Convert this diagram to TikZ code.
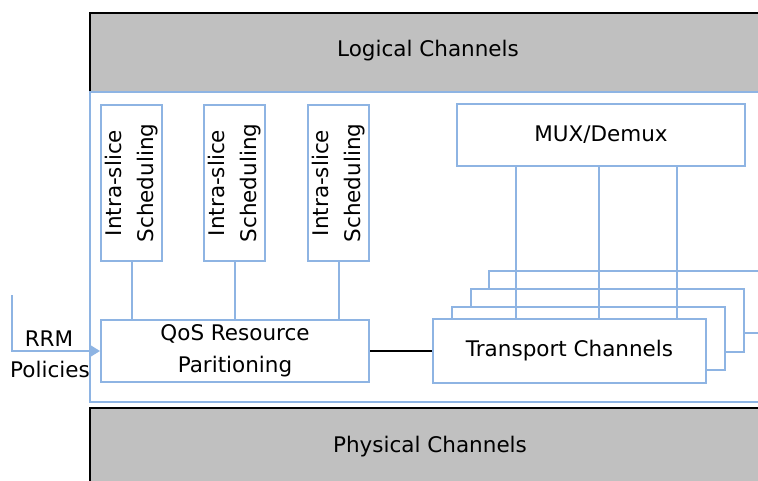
\documentclass[tikz,border=0pt]{standalone}
\usepackage{fontspec}
\setmainfont{DejaVu Sans}
\usetikzlibrary{arrows.meta}
\definecolor{boxblue}{HTML}{8EB4E3}
\definecolor{changray}{HTML}{C0C0C0}
\begin{document}
\begin{tikzpicture}
		[x=1pt, y=-1pt,
		 font=\fontsize{21.5}{32}\selectfont,
		 chan/.style = {fill=changray, draw=black, line width=2.5pt},
		 blk/.style = {draw=boxblue, fill=white, line width=2pt, inner sep=0pt, align=center},
		 link/.style = {draw=boxblue, line width=2pt}]
		\useasboundingbox (0,0) rectangle (758,480);
		\clip (0,0) rectangle (758,480);
		% channels and the MAC frame
		\draw[chan] (90,13) rectangle (790,92);
		\draw[blk] (90,92) rectangle (790,402);
		\draw[chan] (90,408) rectangle (790,500);
		\node (logical) at (428,51) {Logical Channels};
		\node (physical) at (430,447) {Physical Channels};
		% scheduling blocks
		\foreach \n/\x in {1/131.5, 2/234.5, 3/338.5}
			\node[blk, rotate=90, minimum width=156pt, minimum height=61pt] (intra\n) at (\x,183) {Intra-slice\\Scheduling};
		\node[blk, minimum width=268pt, minimum height=62pt] (qos) at (235,351) {QoS Resource\\Paritioning};
		% transport channel stack
		\node[blk, minimum width=273pt, minimum height=62pt] (tc4) at (625.5,302) {};
		\node[blk, minimum width=273pt, minimum height=63pt] (tc3) at (607,320.5) {};
		\node[blk, minimum width=273pt, minimum height=63pt] (tc2) at (588,338.5) {};
		\node[blk, minimum width=273pt, minimum height=64pt] (tc) at (569.5,351) {Transport Channels};
		\node[blk, minimum width=288pt, minimum height=62pt] (mux) at (601,135) {MUX/Demux};
		\foreach \x [count=\k] in {516, 599, 677} {
			\coordinate (m\k) at (\x,0);
			\draw[link] (m\k |- mux.south) -- (m\k |- tc.north);
		}
		\foreach \n in {1,2,3}
			\draw[link] (intra\n.west) -- (intra\n.west |- qos.north);
		\draw[line width=1.5pt] (qos.east) -- (tc.west);
		% policies input
		\coordinate (rrm) at (12,295);
		\draw[link, -{Triangle[length=11pt, width=13pt]}] (rrm) -- (rrm |- qos.west) -- (qos.west);
		\node (rrmtxt) at (49,339) {RRM};
		\node (poltxt) at (50,369) {Policies};
	\end{tikzpicture}
\end{document}
